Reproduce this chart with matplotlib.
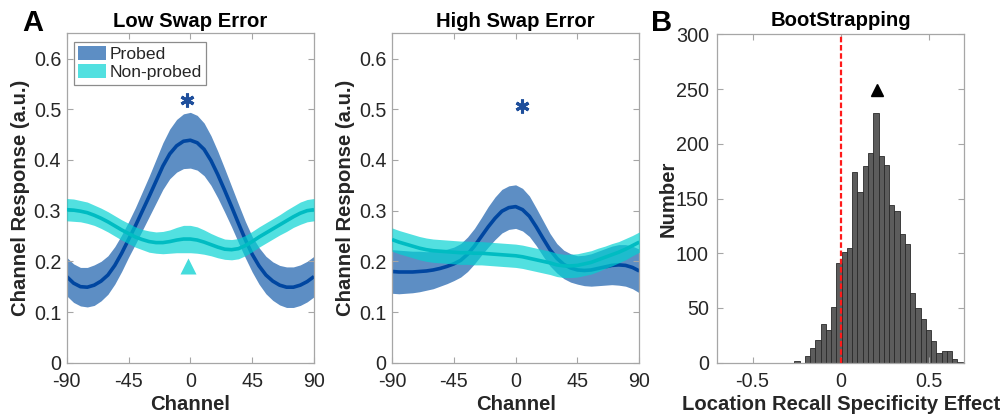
import numpy as np
import matplotlib
matplotlib.use('Agg')
import matplotlib.pyplot as plt
from matplotlib.patches import Patch

plt.rcParams['font.family'] = ['Liberation Sans', 'DejaVu Sans']
plt.rcParams['axes.unicode_minus'] = False

# ---------------- data ----------------
channels = [-90, -85, -80, -75, -70, -65, -60, -55, -50, -45, -40, -35, -30, -25, -20, -15, -10, -5, 0,
            5, 10, 15, 20, 25, 30, 35, 40, 45, 50, 55, 60, 65, 70, 75, 80, 85, 90]

low_probed_mean = [0.170, 0.157, 0.150, 0.149, 0.153, 0.161, 0.173, 0.192, 0.216, 0.243,
                   0.270, 0.299, 0.328, 0.358, 0.388, 0.412, 0.428, 0.437, 0.439,
                   0.434, 0.421, 0.399, 0.371, 0.340, 0.308, 0.275, 0.243, 0.214,
                   0.191, 0.173, 0.161, 0.153, 0.149, 0.149, 0.153, 0.160, 0.170]
low_probed_sem = [0.038, 0.038, 0.038, 0.039, 0.040, 0.039, 0.038, 0.037, 0.036, 0.035,
                  0.036, 0.038, 0.040, 0.043, 0.046, 0.049, 0.052, 0.054, 0.055,
                  0.054, 0.052, 0.049, 0.046, 0.043, 0.040, 0.038, 0.036, 0.035,
                  0.036, 0.037, 0.038, 0.039, 0.040, 0.040, 0.040, 0.040, 0.040]
low_nonprobed_mean = [0.302, 0.301, 0.299, 0.296, 0.291, 0.285, 0.278, 0.270, 0.262, 0.255,
                      0.248, 0.243, 0.239, 0.237, 0.237, 0.239, 0.242, 0.244, 0.244,
                      0.242, 0.238, 0.233, 0.228, 0.224, 0.223, 0.225, 0.231, 0.239,
                      0.248, 0.256, 0.264, 0.272, 0.280, 0.288, 0.295, 0.300, 0.302]
low_nonprobed_sem = [0.022, 0.022, 0.021, 0.021, 0.020, 0.020, 0.020, 0.020, 0.020, 0.020,
                     0.020, 0.020, 0.021, 0.021, 0.022, 0.023, 0.025, 0.027, 0.027,
                     0.026, 0.024, 0.022, 0.021, 0.020, 0.020, 0.020, 0.020, 0.020,
                     0.020, 0.020, 0.020, 0.020, 0.021, 0.021, 0.022, 0.022, 0.022]

high_probed_mean = [0.180, 0.179, 0.179, 0.179, 0.180, 0.181, 0.183, 0.186, 0.190, 0.195,
                    0.202, 0.214, 0.230, 0.249, 0.268, 0.285, 0.299, 0.306, 0.308,
                    0.302, 0.289, 0.268, 0.245, 0.223, 0.206, 0.194, 0.187, 0.183,
                    0.182, 0.183, 0.186, 0.189, 0.192, 0.193, 0.192, 0.188, 0.181]
high_probed_sem = [0.043, 0.043, 0.042, 0.041, 0.040, 0.038, 0.037, 0.035, 0.034, 0.033,
                   0.033, 0.034, 0.035, 0.037, 0.040, 0.042, 0.043, 0.043, 0.043,
                   0.042, 0.040, 0.037, 0.035, 0.032, 0.029, 0.028, 0.028, 0.028,
                   0.030, 0.032, 0.034, 0.036, 0.038, 0.040, 0.041, 0.042, 0.043]
high_nonprobed_mean = [0.243, 0.238, 0.234, 0.230, 0.226, 0.223, 0.221, 0.220, 0.219, 0.218,
                       0.217, 0.217, 0.216, 0.216, 0.215, 0.214, 0.213, 0.212, 0.211,
                       0.209, 0.206, 0.203, 0.200, 0.197, 0.193, 0.191, 0.191, 0.192,
                       0.195, 0.198, 0.203, 0.208, 0.213, 0.218, 0.224, 0.231, 0.238]
high_nonprobed_sem = [0.023, 0.023, 0.023, 0.023, 0.023, 0.023, 0.023, 0.023, 0.023, 0.023,
                      0.023, 0.023, 0.023, 0.023, 0.023, 0.023, 0.023, 0.023, 0.023,
                      0.023, 0.023, 0.023, 0.023, 0.023, 0.023, 0.023, 0.023, 0.023,
                      0.023, 0.023, 0.023, 0.022, 0.022, 0.021, 0.021, 0.020, 0.020]

low_star = (-2.5, 0.518)
low_triangle = (-1.5, 0.19)
high_star = (4.5, 0.507)

channel_ticks = [-90, -45, 0, 45, 90]
channel_ticklabels = ['-90', '-45', '0', '45', '90']
response_ticks = [0, 0.1, 0.2, 0.3, 0.4, 0.5, 0.6]
response_ticklabels = ['0', '0.1', '0.2', '0.3', '0.4', '0.5', '0.6']

boot_bin_start = -0.262
boot_bin_width = 0.0298
boot_counts = [2, 0, 6, 13, 21, 35, 30, 51, 91, 101, 105, 174, 156, 180, 192, 228,
               189, 181, 144, 139, 118, 108, 64, 50, 40, 30, 20, 9, 11, 11, 3, 1]
boot_marker = (0.204, 249)
boot_xticks = [-0.5, 0, 0.5]
boot_xticklabels = ['-0.5', '0', '0.5']
boot_yticks = [0, 50, 100, 150, 200, 250, 300]

# ---------------- style ----------------
PROBED_BAND = '#1058a8'
PROBED_LINE = '#0046a0'
NONPROBED_BAND = '#00d2d2'
NONPROBED_LINE = '#00bcc2'
BAND_ALPHA = 0.68
SPINE = '#a6a6a6'
TXT = '#262626'
TICKFS = 14.2
LABFS = 14.6

W, H = 1005, 416
fig = plt.figure(figsize=(W / 100, H / 100), dpi=100)


def ax_rect(l, r, t, b):
    return [l / W, 1 - b / H, (r - l) / W, (b - t) / H]


def style(ax):
    for s in ax.spines.values():
        s.set_color(SPINE)
        s.set_linewidth(0.9)
    ax.tick_params(direction='in', length=4, width=0.8, color=SPINE,
                   top=True, right=True, labelsize=TICKFS, labelcolor=TXT, pad=4)
    ax.tick_params(axis='x', pad=7)


def channel_panel(ax, pm, ps, nm, ns, title, ylab_x):
    ch = np.array(channels)
    pm, ps, nm, ns = map(np.array, (pm, ps, nm, ns))
    ax.fill_between(ch, pm - ps, pm + ps, color=PROBED_BAND, alpha=BAND_ALPHA, lw=0, zorder=1)
    ax.plot(ch, pm, color=PROBED_LINE, lw=2.6, zorder=2, solid_capstyle='butt')
    ax.fill_between(ch, nm - ns, nm + ns, color=NONPROBED_BAND, alpha=BAND_ALPHA, lw=0, zorder=3)
    ax.plot(ch, nm, color=NONPROBED_LINE, lw=2.6, zorder=4, solid_capstyle='butt')
    ax.set_xlim(-90, 90)
    ax.set_ylim(0, 0.65)
    ax.set_xticks(channel_ticks)
    ax.set_xticklabels(channel_ticklabels)
    ax.set_yticks(response_ticks)
    ax.set_yticklabels(response_ticklabels)
    style(ax)
    ax.set_xlabel('Channel', fontsize=LABFS, fontweight='bold', color=TXT)
    ax.set_ylabel('Channel Response (a.u.)', fontsize=LABFS, fontweight='bold', color=TXT)
    ax.xaxis.set_label_coords(0.5, -0.127)
    ax.xaxis.label.set_va('center')
    ax.yaxis.set_label_coords(ylab_x, 0.5)
    ax.yaxis.label.set_va('center')
    ax.text(0.5, 1.037, title, transform=ax.transAxes, ha='center', va='center',
            fontsize=LABFS, fontweight='bold', color='black')


# Panel A left
ax1 = fig.add_axes(ax_rect(66.7, 314, 33.3, 362.7))
channel_panel(ax1, low_probed_mean, low_probed_sem, low_nonprobed_mean, low_nonprobed_sem,
              'Low Swap Error', -0.185)
ax1.plot(*low_star, marker=(6, 2, 0), ms=10, mew=2.2, color='#1f4f9c', zorder=6)
ax1.plot(*low_triangle, marker='^', ms=12, color='#45dcdc', mec='none', zorder=6)
handles = [Patch(facecolor=PROBED_BAND, alpha=BAND_ALPHA, edgecolor='none', label='Probed'),
           Patch(facecolor=NONPROBED_BAND, alpha=BAND_ALPHA, edgecolor='none', label='Non-probed')]
leg = ax1.legend(handles=handles, loc='upper left', bbox_to_anchor=(0.028, 0.975),
                 borderaxespad=0, fontsize=12.6, handlelength=1.62, handleheight=0.9,
                 handletextpad=0.2, labelspacing=0.1, borderpad=0.25,
                 fancybox=False, framealpha=1, edgecolor='#8c8c8c')
leg.get_frame().set_linewidth(0.9)
for t in leg.get_texts():
    t.set_color(TXT)

# Panel A right
ax2 = fig.add_axes(ax_rect(392, 639.3, 33.3, 362.7))
channel_panel(ax2, high_probed_mean, high_probed_sem, high_nonprobed_mean, high_nonprobed_sem,
              'High Swap Error', -0.188)
ax2.plot(*high_star, marker=(6, 2, 0), ms=10, mew=2.2, color='#1f4f9c', zorder=6)

# Panel B
ax3 = fig.add_axes(ax_rect(717.3, 964, 34.3, 362.7))
edges = boot_bin_start + boot_bin_width * np.arange(len(boot_counts) + 1)
ax3.bar(edges[:-1], boot_counts, width=boot_bin_width, align='edge',
        color='#5c5c5c', edgecolor='#2a2a2a', linewidth=0.6, zorder=1)
ax3.plot([0, 0], [0, 300], color='#ff1a1a', lw=1.6, ls=(0, (2.5, 1.2)), zorder=3)
ax3.plot(*boot_marker, marker='^', ms=9, color='black', zorder=4)
ax3.set_xlim(-0.7, 0.7)
ax3.set_ylim(0, 300)
ax3.set_xticks(boot_xticks)
ax3.set_xticklabels(boot_xticklabels)
ax3.set_yticks(boot_yticks)
style(ax3)
ax3.tick_params(axis='y', pad=6)
ax3.set_xlabel('Location Recall Specificity Effect', fontsize=LABFS, fontweight='bold', color=TXT)
ax3.set_ylabel('Number', fontsize=LABFS, fontweight='bold', color=TXT)
ax3.xaxis.set_label_coords(0.5, -0.127)
ax3.xaxis.label.set_va('center')
ax3.yaxis.set_label_coords(-0.2, 0.5)
ax3.yaxis.label.set_va('center')
ax3.text(0.5, 1.042, 'BootStrapping', transform=ax3.transAxes, ha='center', va='center',
         fontsize=LABFS, fontweight='bold', color='black')

fig.text(32.5 / W, 1 - 23 / H, 'A', fontsize=21, fontweight='bold', ha='center', va='center')
fig.text(662 / W, 1 - 23 / H, 'B', fontsize=21, fontweight='bold', ha='center', va='center')

fig.savefig('out.png', dpi=100)
